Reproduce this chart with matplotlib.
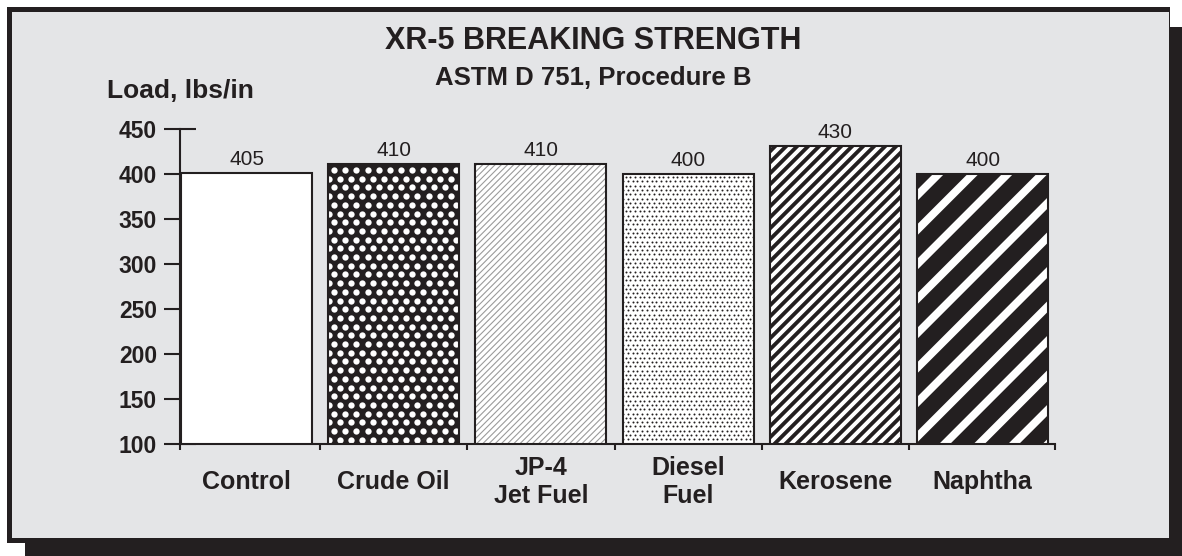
import numpy as np
import matplotlib
matplotlib.use("Agg")
import matplotlib.pyplot as plt
from matplotlib.patches import Rectangle
from matplotlib.collections import LineCollection
from matplotlib.transforms import IdentityTransform

categories = ["Control", "Crude Oil", "JP-4\nJet Fuel", "Diesel\nFuel", "Kerosene", "Naphtha"]
bar_heights = [401, 411, 411, 400, 431, 400]
value_labels = ["405", "410", "410", "400", "430", "400"]
y_ticks = [100, 150, 200, 250, 300, 350, 400, 450]

INK = "#231f20"
PANEL = "#e4e5e7"

plt.rcParams["font.family"] = ["Liberation Sans", "DejaVu Sans"]

W, H = 1182, 556
fig = plt.figure(figsize=(W / 100, H / 100), dpi=100)
fig.patch.set_facecolor("white")


def px_rect(x0, y0, x1, y1, color, z):
    # pixel box, measured from the top-left of the picture
    fig.add_artist(Rectangle((x0 / W, 1 - y1 / H), (x1 - x0) / W, (y1 - y0) / H,
                             transform=fig.transFigure, facecolor=color,
                             edgecolor="none", zorder=z))


px_rect(25, 27, 1182, 556, INK, -3)   # drop shadow
px_rect(7, 7, 1170, 543, INK, -2)     # frame
px_rect(12, 12, 1169, 538, PANEL, -1)

ax = fig.add_axes([180 / W, 1 - 444 / H, 875 / W, 315 / H])
ax.set_facecolor("none")
ax.set_ylim(100, 450)
ax.set_xlim(-0.452, 5.492)
ax.set_autoscale_on(False)

x = np.arange(len(categories))
width = 0.89
heights = np.array(bar_heights) - 100
fills = ["white", INK, "white", "white", INK, INK]
bars = ax.bar(x, heights, width, bottom=100, color=fills, edgecolor="none", zorder=3)


def stripes(bar, period, lw_px, color):
    x0, y0, x1, y1 = bar.get_window_extent().extents
    offs = np.arange(y0 - x1, y1 - x0 + period, period)
    segs = [[(x0 - 3, x0 - 3 + c), (x1 + 3, x1 + 3 + c)] for c in offs]
    lc = LineCollection(segs, colors=color, linewidths=lw_px * 0.72,
                        transform=IdentityTransform(), zorder=4, capstyle="butt")
    ax.add_collection(lc, autolim=False)
    lc.set_clip_path(bar)


def dots(bar, dx, dy, size_px, color, start=0):
    x0, y0, x1, y1 = bar.get_window_extent().extents
    xs, ys = [], []
    for i, yy in enumerate(np.arange(y1 - start, y0 - dy, -dy)):
        shift = dx / 2 if i % 2 else 0
        for xx in np.arange(x0 + start + shift - dx, x1 + dx, dx):
            xs.append(xx)
            ys.append(yy)
    ln, = ax.plot(xs, ys, ls="none", marker="o", ms=size_px * 0.72, mfc=color,
                  mec="none", transform=IdentityTransform(), zorder=4)
    ln.set_clip_path(bar)


dots(bars[1], 11.1, 8.7, 6.3, "white", start=6)
stripes(bars[2], 6.2, 1.1, "#9a9a9a")
dots(bars[3], 4.7, 4.3, 2.0, INK, start=3)
stripes(bars[4], 11.0, 3.9, "white")
stripes(bars[5], 34.5, 7.8, "white")

ax.bar(x, heights, width, bottom=100, fill=False, edgecolor=INK, linewidth=1.5, zorder=5)

for xi, h, lab in zip(x, bar_heights, value_labels):
    ax.annotate(lab, (xi, h), xytext=(0, 3), textcoords="offset points",
                ha="center", va="bottom", fontsize=15, color=INK)

for xi, cat in zip(x, categories):
    ax.annotate(cat, (xi, 0), xycoords=ax.get_xaxis_transform(),
                xytext=(0, -27.4), textcoords="offset points",
                ha="center", va="center", fontsize=18, fontweight="bold",
                linespacing=1.2, color=INK)

for side in ["top", "right"]:
    ax.spines[side].set_visible(False)
for side in ["left", "bottom"]:
    ax.spines[side].set_linewidth(1.5)
    ax.spines[side].set_color(INK)

ax.set_yticks(y_ticks, labels=[str(v) for v in y_ticks], fontsize=16.5,
              fontweight="bold", color=INK)
ax.tick_params(axis="y", direction="inout", length=23, width=1.5, color=INK, pad=5)

lo, hi = ax.get_xlim()
ax.set_xticks(np.r_[lo, np.arange(0.5, len(categories) - 1), hi], labels=[])
ax.tick_params(axis="x", direction="out", length=4.3, width=1.5, color=INK)

fig.text(593 / W, 1 - 49 / H, "XR-5 BREAKING STRENGTH", ha="center", va="baseline",
         fontsize=22, fontweight="bold", color=INK)
fig.text(593 / W, 1 - 85 / H, "ASTM D 751, Procedure B", ha="center", va="baseline",
         fontsize=18.5, fontweight="bold", color=INK)
fig.text(107 / W, 1 - 98 / H, "Load, lbs/in", ha="left", va="baseline",
         fontsize=19, fontweight="bold", color=INK)

fig.savefig("out.png", dpi=100)
